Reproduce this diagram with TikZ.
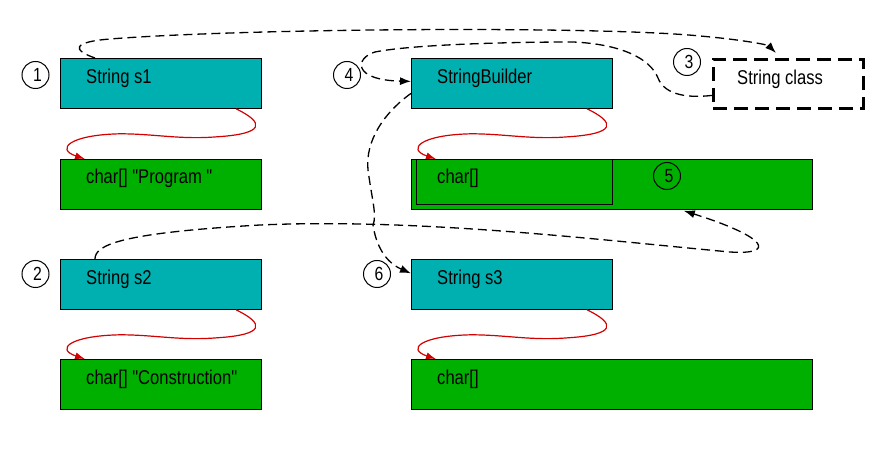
\documentclass[tikz,border=0pt]{standalone}
\usepackage{fontspec}
\newfontfamily\labelfont{Liberation Sans}[FakeStretch=0.83]
\usetikzlibrary{arrows.meta,calc}
\definecolor{tealfill}{RGB}{0,176,176}
\definecolor{greenfill}{RGB}{0,176,0}
\definecolor{linkred}{RGB}{210,0,0}
\newcommand\redlink[2]{%
  \draw[redarrow] ($(#1.south west)+(176,0)$)
    .. controls ($(#1.south west)+(205,14)$) and ($(#1.south west)+(205,25)$) .. ($(#1.south west)+(157,28)$)
    .. controls ($(#1.south west)+(120,31)$) and ($(#1.south west)+(95,25)$) .. ($(#1.south west)+(60,25)$)
    .. controls ($(#1.south west)+(10,26)$) and ($(#2.north west)+(-5,-10)$) .. ($(#2.north west)+(25,0)$);}
\begin{document}
\begin{tikzpicture}[x=1pt,y=-1pt,
  font=\labelfont\fontsize{20}{24}\selectfont,
  box/.style={draw=black, line width=0.8pt, inner sep=0pt, anchor=north west, minimum height=50pt},
  tealbox/.style={box, fill=tealfill, minimum width=201pt},
  greenbox/.style={box, fill=greenfill, minimum width=201pt},
  widebox/.style={box, fill=greenfill, minimum width=401pt},
  lbl/.style={anchor=base west, inner sep=0pt},
  stepnum/.style={circle, draw=black, line width=1pt, minimum size=27pt, inner sep=0pt, font=\labelfont\fontsize{19}{22}\selectfont},
  dlink/.style={draw=black, line width=1.3pt, dash pattern=on 9pt off 5pt, -{Latex[length=11pt,width=8pt]}},
  redarrow/.style={draw=linkred, line width=1.2pt, -{Latex[length=10pt,width=7pt]}},
  classbox/.style={draw=black, line width=2.8pt, dash pattern=on 14pt off 7pt, inner sep=0pt, anchor=north west, minimum width=150pt, minimum height=49pt}
]
\useasboundingbox (0,0) rectangle (881,462);

% boxes
\node[tealbox] (s1) at (60,58) {};
\node[greenbox] (c1) at (60,159) {};
\node[tealbox] (s2) at (60,259) {};
\node[greenbox] (c2) at (60,359) {};
\node[tealbox] (sb) at (411,58) {};
\node[widebox] (cb) at (411,159) {};
\node[draw=black, line width=1.2pt, inner sep=0pt, anchor=north west, minimum width=196pt, minimum height=45pt] (cbi) at ($(cb.north west)+(5,0)$) {};
\node[tealbox] (s3) at (411,259) {};
\node[widebox] (c3) at (411,359) {};
\node[classbox] (sc) at (712,58) {};

% texts
\node[lbl] (ts1) at ($(s1.north west)+(26,26)$) {String s1};
\node[lbl] (tc1) at ($(c1.north west)+(26,25)$) {char[] "Program~"};
\node[lbl] (ts2) at ($(s2.north west)+(26,26)$) {String s2};
\node[lbl] (tc2) at ($(c2.north west)+(26,25)$) {char[] "Construction"};
\node[lbl] (tsb) at ($(sb.north west)+(26,26)$) {StringBuilder};
\node[lbl] (tcb) at ($(cb.north west)+(26,25)$) {char[]};
\node[lbl] (ts3) at ($(s3.north west)+(26,26)$) {String s3};
\node[lbl] (tc3) at ($(c3.north west)+(26,25)$) {char[]};
\node[lbl] (tsc) at ($(sc.north west)+(25,27)$) {String class};

% step numbers
\node[stepnum] (n1) at (35.5,75) {\hspace*{4pt}1};
\node[stepnum] (n2) at (35.5,274) {\hspace*{4pt}2};
\node[stepnum] (n3) at (687,62) {\hspace*{4pt}3};
\node[stepnum] (n4) at (347,75) {\hspace*{4pt}4};
\node[stepnum] (n5) at (667,176) {\hspace*{4pt}5};
\node[stepnum] (n6) at (377,274) {\hspace*{4pt}6};

% red links
\redlink{s1}{c1}
\redlink{s2}{c2}
\redlink{sb}{cb}
\redlink{s3}{c3}

% dashed links
\draw[dlink] ($(s1.north west)+(35,0)$)
  .. controls (72,50) and (72,42) .. (110,39)
  .. controls (250,28) and (600,26) .. (700,36)
  .. controls (745,40) and (768,45) .. ($(sc.north west)+(64,-5)$);

\draw[dlink] ($(sc.west)+(0,11.5)$)
  .. controls (690,98) and (665,96) .. (658,78)
  .. controls (650,58) and (620,44) .. (573,42)
  .. controls (500,42) and (410,45) .. (375,52)
  .. controls (355,58) and (352,80) .. ($(sb.west)+(0,-2)$);

\draw[dlink] ($(sb.west)+(0,10)$)
  .. controls (385,112) and (365,140) .. (368,170)
  .. controls (372,200) and (377,215) .. (373,225)
  .. controls (376,245) and (385,262) .. ($(s3.west)+(0,-11)$);

\draw[dlink] ($(s2.north west)+(35,0)$)
  .. controls (95,245) and (120,233) .. (260,225)
  .. controls (420,218) and (600,240) .. (730,252)
  .. controls (775,255) and (770,238) .. ($(cb.south east)+(-129,1)$);
\end{tikzpicture}
\end{document}
